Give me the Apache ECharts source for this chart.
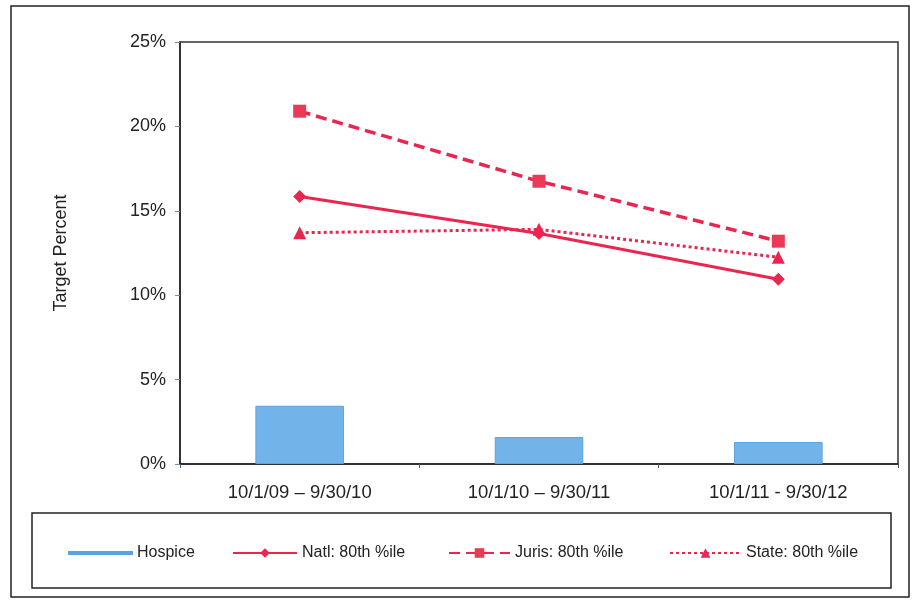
<!DOCTYPE html>
<html>
<head>
<meta charset="utf-8">
<script src="https://cdn.jsdelivr.net/npm/echarts@6/dist/echarts.min.js"></script>
<style>
  html, body { margin: 0; padding: 0; background: #fff; }
  #chart { width: 912px; height: 601px; }
</style>
</head>
<body>
<div id="chart"></div>
<script>
// Reporting periods
const periods = ['10/1/09 \u2013 9/30/10', '10/1/10 \u2013 9/30/11', '10/1/11 - 9/30/12'];
// Percent values per series
const hospice = [3.45, 1.6, 1.3];
const natl = [15.85, 13.65, 10.95];
const juris = [20.9, 16.75, 13.2];
const state = [13.7, 13.9, 12.25];
// Y axis ticks
const yTicks = [0, 5, 10, 15, 20, 25];

const RED = '#e8264f';
const BLUE = '#72b4ea';
const FONT = 'Liberation Sans, Arial, sans-serif';

const chart = echarts.init(document.getElementById('chart'), null, { renderer: 'canvas' });

const legendText = { fontFamily: FONT, fontSize: 16, color: '#222' };

chart.setOption({
  animation: false,
  backgroundColor: '#fff',
  textStyle: { fontFamily: FONT },
  grid: {
    left: 180, right: 14, top: 42, bottom: 137,
    show: true, borderColor: '#333', borderWidth: 1.5, backgroundColor: 'transparent'
  },
  xAxis: {
    type: 'category',
    data: periods,
    axisLine: { lineStyle: { color: '#222', width: 1.5 } },
    axisTick: { show: true, alignWithLabel: false, length: 4, lineStyle: { color: '#555' } },
    axisLabel: { color: '#222', fontSize: 18.5, margin: 19, fontFamily: FONT }
  },
  yAxis: {
    type: 'value',
    min: yTicks[0],
    max: yTicks[yTicks.length - 1],
    interval: 5,
    name: 'Target Percent',
    nameLocation: 'middle',
    nameGap: 110,
    nameTextStyle: { color: '#222', fontSize: 18, fontFamily: FONT },
    splitLine: { show: false },
    axisLine: { show: true, lineStyle: { color: '#222', width: 1.5 } },
    axisTick: { show: true, length: 5, lineStyle: { color: '#6a8fb5' } },
    axisLabel: { color: '#222', fontSize: 18, margin: 14, formatter: v => v + '%' }
  },
  legend: [
    { data: ['Hospice'], left: 63, top: 540, itemWidth: 63, itemHeight: 2, icon: 'rect', textStyle: legendText },
    { data: ['Natl: 80th %ile'], left: 227, top: 540, itemWidth: 64, itemHeight: 12, textStyle: legendText },
    { data: ['Juris: 80th %ile'], left: 443, top: 540, itemWidth: 61, itemHeight: 12, textStyle: legendText },
    { data: ['State: 80th %ile'], left: 664, top: 540, itemWidth: 71, itemHeight: 12, textStyle: legendText }
  ],
  graphic: [
    // outer page frame
    { type: 'rect', shape: { x: 11, y: 6, width: 898, height: 591 },
      style: { fill: 'none', stroke: '#222', lineWidth: 1.5 }, silent: true, z: -1 },
    // legend frame
    { type: 'rect', shape: { x: 32, y: 513, width: 859, height: 75 },
      style: { fill: 'none', stroke: '#222', lineWidth: 1.5 }, silent: true, z: -1 }
  ],
  series: [
    {
      name: 'Hospice', type: 'bar', data: hospice, barWidth: '37%',
      itemStyle: { color: BLUE, borderColor: '#5aa3df', borderWidth: 1 }
    },
    {
      name: 'Natl: 80th %ile', type: 'line', data: natl,
      symbol: 'diamond', symbolSize: 13,
      lineStyle: { color: RED, width: 3 },
      itemStyle: { color: RED }
    },
    {
      name: 'Juris: 80th %ile', type: 'line', data: juris,
      symbol: 'rect', symbolSize: 13,
      lineStyle: { color: RED, width: 3.5, type: [11, 6] },
      itemStyle: { color: '#ea3a58' }
    },
    {
      name: 'State: 80th %ile', type: 'line', data: state,
      symbol: 'triangle', symbolSize: 13,
      lineStyle: { color: RED, width: 3, type: [3, 3] },
      itemStyle: { color: RED }
    }
  ]
});
</script>
</body>
</html>
